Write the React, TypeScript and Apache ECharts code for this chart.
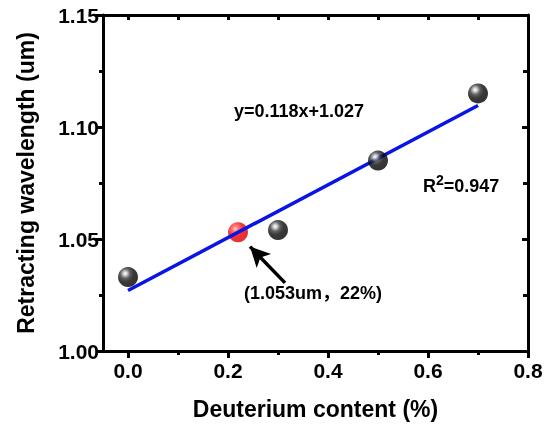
import React, { useEffect, useRef, useState } from "react";
import * as echarts from "echarts";

// ---- data ----
const deuterium = [0, 0.3, 0.5, 0.7];
const wavelength = [1.033, 1.054, 1.085, 1.115];
const markedPoint = [0.22, 1.053];
const fitX = [0, 0.7];
const fitY = [1.027, 1.1096];
const arrowFrom = [0.314, 1.0304];
const arrowTo = [0.244, 1.0466];
const xMajorTicks = [0, 0.2, 0.4, 0.6, 0.8];
const xMinorTicks = [0.1, 0.3, 0.5, 0.7];
const xTopTicks = [0, 0.1, 0.2, 0.3, 0.4, 0.5, 0.6, 0.7, 0.8];
const equationText = "y=0.118x+1.027";
const r2Value = "=0.947";
const noteText = "(1.053um\uFF0C22%)";
const xTitle = "Deuterium content (%)";
const yTitle = "Retracting wavelength (um)";

const FONT = '"Liberation Sans", Arial, "Noto Sans CJK SC", sans-serif';

export default function App() {
  const ref = useRef<HTMLDivElement>(null);
  const [err, setErr] = useState("");

  useEffect(() => {
    if (!ref.current) return;
    const chart = echarts.init(ref.current, null, { renderer: "svg" });

    const blackBall = new echarts.graphic.RadialGradient(0.36, 0.32, 0.7, [
      { offset: 0, color: "#ffffff" },
      { offset: 0.12, color: "#cfcfcf" },
      { offset: 0.35, color: "#3a3a3a" },
      { offset: 0.6, color: "#080808" },
      { offset: 1, color: "#000000" },
    ]);
    const redBall = new echarts.graphic.RadialGradient(0.36, 0.32, 0.7, [
      { offset: 0, color: "#ffc8c8" },
      { offset: 0.18, color: "#ff6060" },
      { offset: 0.55, color: "#f00000" },
      { offset: 1, color: "#d80000" },
    ]);

    const line = () => ({ show: true, onZero: false, lineStyle: { color: "black", width: 3 } });
    const tick = (len: number, inside: boolean, values?: number[]) => {
      const t: any = { show: true, inside, length: len, lineStyle: { color: "black", width: 3 } };
      if (values) t.customValues = values;
      return t;
    };
    const xMin = -0.05;
    const xMax = 0.8;

    const option: any = {
      animation: false,
      grid: { left: 103, right: 22, top: 15, bottom: 74 },
      xAxis: [
        {
          type: "value",
          position: "bottom",
          min: xMin,
          max: xMax,
          axisLine: line(),
          splitLine: { show: false },
          axisTick: tick(7, false, xMajorTicks),
          axisLabel: {
            show: true,
            customValues: xMajorTicks,
            margin: 9,
            formatter: (v: number) => v.toFixed(1),
            color: "black",
            fontFamily: FONT,
            fontWeight: "bold",
            fontSize: 21,
          },
          name: xTitle,
          nameLocation: "middle",
          nameGap: 46,
          nameTextStyle: { color: "black", fontFamily: FONT, fontWeight: "bold", fontSize: 23 },
        },
        {
          type: "value",
          position: "bottom",
          min: xMin,
          max: xMax,
          axisLine: { show: false, onZero: false },
          splitLine: { show: false },
          axisTick: tick(4, false, xMinorTicks),
          axisLabel: { show: false },
        },
        {
          type: "value",
          position: "top",
          min: xMin,
          max: xMax,
          axisLine: line(),
          splitLine: { show: false },
          axisTick: tick(5, true, xTopTicks),
          axisLabel: { show: false },
        },
      ],
      yAxis: [
        {
          type: "value",
          position: "left",
          min: 1.0,
          max: 1.15,
          interval: 0.05,
          axisLine: line(),
          splitLine: { show: false },
          axisTick: tick(7, false),
          minorTick: { show: true, splitNumber: 2, length: 4, lineStyle: { color: "black", width: 3 } },
          axisLabel: {
            margin: 4,
            formatter: (v: number) => v.toFixed(2),
            color: "black",
            fontFamily: FONT,
            fontWeight: "bold",
            fontSize: 21,
          },
          name: yTitle,
          nameLocation: "middle",
          nameGap: 66,
          nameTextStyle: { color: "black", fontFamily: FONT, fontWeight: "bold", fontSize: 23 },
        },
        {
          type: "value",
          position: "right",
          min: 1.0,
          max: 1.15,
          interval: 0.05,
          axisLine: line(),
          splitLine: { show: false },
          axisTick: tick(6, true),
          minorTick: { show: true, splitNumber: 2, length: 5, lineStyle: { color: "black", width: 3 } },
          axisLabel: { show: false },
        },
      ],
      series: [
        {
          type: "scatter",
          data: [markedPoint],
          symbolSize: 20,
          itemStyle: { color: redBall },
        },
        {
          type: "line",
          data: fitX.map((x, i) => [x, fitY[i]]),
          symbol: "none",
          lineStyle: { color: "#0a14e6", width: 3.5 },
          markLine: {
            silent: true,
            symbol: ["none", "arrow"],
            symbolSize: [15, 20],
            label: { show: false },
            lineStyle: { color: "black", width: 3.5, type: "solid" },
            data: [[{ coord: arrowFrom }, { coord: arrowTo }]],
          },
        },
        {
          type: "scatter",
          data: deuterium.map((x, i) => [x, wavelength[i]]),
          symbolSize: 20,
          itemStyle: { color: blackBall },
          z: 3,
        },
      ],
      graphic: [
        {
          type: "text",
          x: 299,
          y: 111,
          style: {
            text: equationText,
            fill: "black",
            font: `bold 18px ${FONT}`,
            textAlign: "center",
            textVerticalAlign: "middle",
          },
        },
        {
          type: "text",
          x: 423,
          y: 184,
          style: {
            text: "{b|R}{s|2}{b|" + r2Value + "}",
            fill: "black",
            textAlign: "left",
            textVerticalAlign: "middle",
            rich: {
              b: { font: `bold 18px ${FONT}`, fill: "black", verticalAlign: "bottom", lineHeight: 22 },
              s: { font: `bold 14px ${FONT}`, fill: "black", verticalAlign: "top", lineHeight: 22 },
            },
          },
        },
        {
          type: "text",
          x: 313,
          y: 293,
          style: {
            text: noteText,
            fill: "black",
            font: `bold 18px ${FONT}`,
            textAlign: "center",
            textVerticalAlign: "middle",
          },
        },
      ],
    };

    try {
      chart.setOption(option);
    } catch (e: any) {
      setErr(String(e && e.stack ? e.stack : e).slice(0, 300));
    }

    return () => chart.dispose();
  }, []);

  return (
    <div style={{ position: "fixed", left: 0, top: 0, width: 550, height: 425 }}>
      <div ref={ref} style={{ width: 550, height: 425 }} />
      {err ? (
        <div style={{ position: "absolute", left: 0, top: 0, fontSize: 10, color: "red", width: 540 }}>{err}</div>
      ) : null}
    </div>
  );
}
